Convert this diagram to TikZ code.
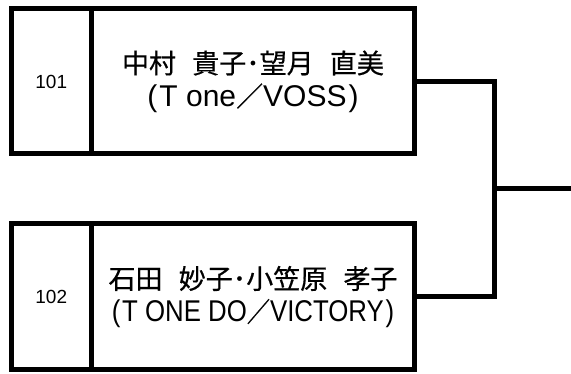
\documentclass[tikz,border=0pt]{standalone}
\usepackage{fontspec}
\usepackage{graphicx}
\setmainfont{Noto Sans CJK JP}[FakeBold=0.5]
\newfontfamily\latinfont{Liberation Sans}
\usetikzlibrary{positioning}
\newcommand{\gap}{\hspace{.6em}} % wide word gap between family and given name
\newcommand{\slashjp}{{\rmfamily\fontsize{27}{33}\selectfont ／}}
% club names in brackets, #1 = horizontal squeeze to fit the cell
\newcommand{\team}[2]{\scalebox{#1}[1]{\latinfont\fontsize{30}{33}\selectfont (\kern2pt#2\kern2pt)}}
\tikzset{
numcell/.style={draw, rectangle, outer sep=0pt, minimum width=80.5pt, minimum height=145pt, font=\latinfont\fontsize{19}{20}\selectfont}, % entry number box
namecell/.style={draw, rectangle, outer sep=0pt, minimum width=323pt, minimum height=145pt, align=center, font=\fontsize{27}{33}\selectfont}, % player names box
link/.style={line join=miter, line cap=rect}, % bracket lines
}

\begin{document}
\begin{tikzpicture}[line width=5pt]
        \useasboundingbox (0,0) rectangle (571pt,374pt);

        \node[numcell] (n1) at (51.25pt,292.5pt) {101};
        \node[namecell, right=0pt of n1] (p1) {中村\gap 貴子･望月\gap 直美\\\team{1}{T one\slashjp VOSS}};
        \node[numcell, minimum height=146pt] (n2) at (51.25pt,77pt) {102};
        \node[namecell, minimum height=146pt, right=0pt of n2] (p2) {石田\gap 妙子･小笠原\gap 孝子\\\team{.86}{T ONE DO\slashjp VICTORY}};

        \coordinate (j) at (494.5pt,185pt);
        \coordinate (out) at (571pt,185pt);

        \draw[link] (p1.east) -| (j) |- (p2.east);
        \draw (j) -- (out);
      \end{tikzpicture}
\end{document}
